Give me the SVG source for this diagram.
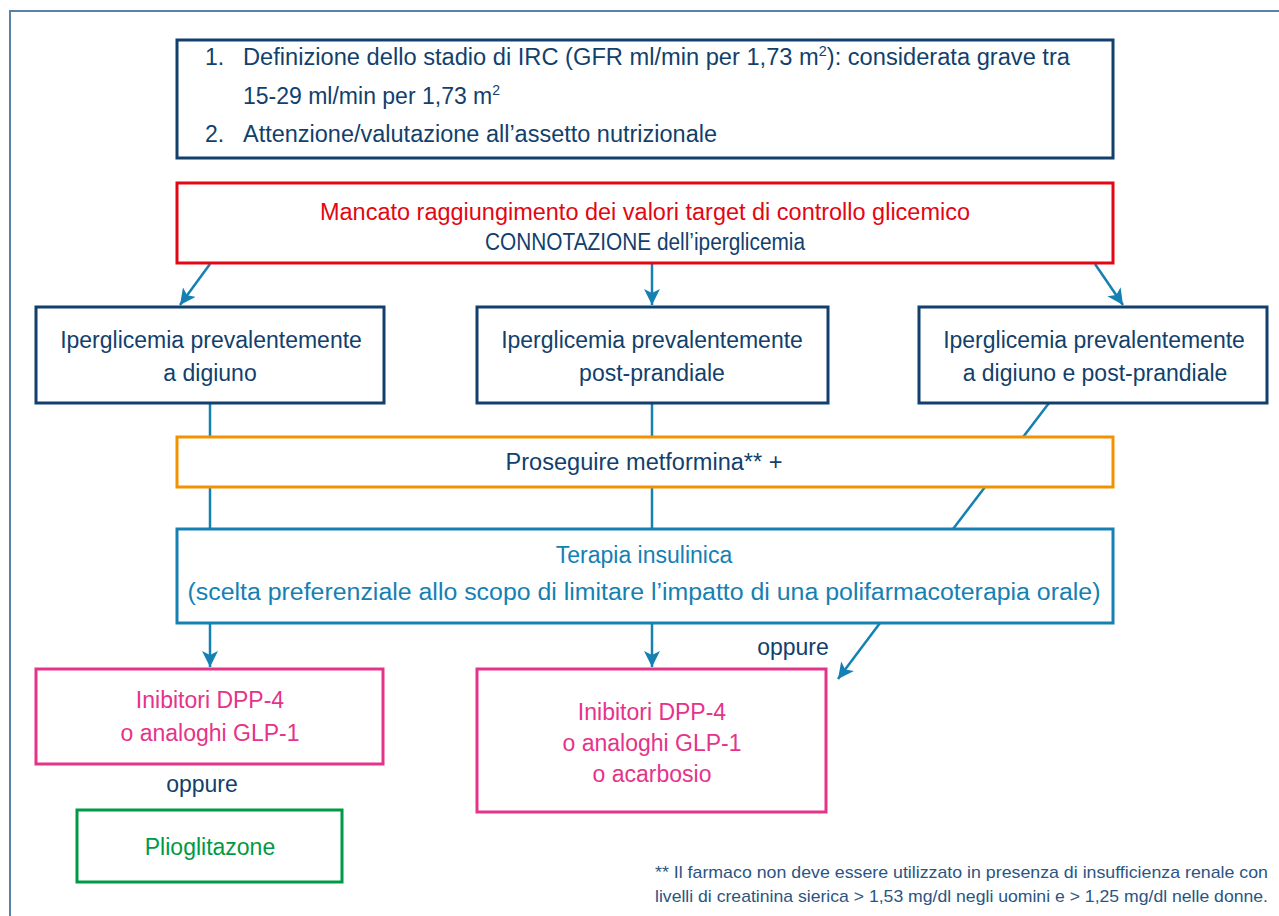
<svg xmlns="http://www.w3.org/2000/svg" width="1279" height="916" viewBox="0 0 1279 916">
<defs>
<marker id="ah" markerUnits="userSpaceOnUse" markerWidth="18" markerHeight="16" refX="16" refY="8" orient="auto">
<path d="M0,0 L16,8 L0,16 L4,8 Z" fill="#1580b2"/>
</marker>
<style>
text{font-family:"Liberation Sans",Arial,sans-serif;font-size:23px;text-anchor:middle}
.navy{fill:#123f6c}
.box{fill:#fff;stroke-width:3}
.conn{stroke:#1580b2;stroke-width:2.5;fill:none}
</style>
</defs>
<rect width="1279" height="916" fill="#fff"/>
<path d="M10,916 V11 H1279" fill="none" stroke="#5b82a6" stroke-width="2"/>

<g id="connectors">
<line class="conn" x1="210" y1="264" x2="180" y2="305" marker-end="url(#ah)"/>
<line class="conn" x1="652" y1="264" x2="652" y2="305" marker-end="url(#ah)"/>
<line class="conn" x1="1095" y1="264" x2="1123" y2="305" marker-end="url(#ah)"/>
<line class="conn" x1="210" y1="403" x2="210" y2="529"/>
<line class="conn" x1="652" y1="403" x2="652" y2="529"/>
<line class="conn" x1="1049" y1="403" x2="953" y2="529"/>
<line class="conn" x1="210" y1="623" x2="210" y2="667" marker-end="url(#ah)"/>
<line class="conn" x1="652" y1="623" x2="652" y2="667" marker-end="url(#ah)"/>
<line class="conn" x1="880" y1="623" x2="838" y2="679" marker-end="url(#ah)"/>
</g>

<g id="n-top">
<rect class="box" x="177" y="40" width="936" height="118" stroke="#123f6c"/>
<text class="navy" x="205" y="65" style="text-anchor:start">1.</text>
<text class="navy" x="243" y="65" style="text-anchor:start" textLength="827" lengthAdjust="spacingAndGlyphs">Definizione dello stadio di IRC (GFR ml/min per 1,73 m<tspan font-size="14" dy="-9">2</tspan><tspan dy="9">): considerata grave tra</tspan></text>
<text class="navy" x="243" y="104" style="text-anchor:start">15-29 ml/min per 1,73 m<tspan font-size="14" dy="-9">2</tspan></text>
<text class="navy" x="205" y="142" style="text-anchor:start">2.</text>
<text class="navy" x="243" y="142" style="text-anchor:start" textLength="474" lengthAdjust="spacingAndGlyphs">Attenzione/valutazione all’assetto nutrizionale</text>
</g>

<g id="n-red">
<rect class="box" x="177" y="183" width="936" height="80" stroke="#e30613"/>
<text x="645" y="220" fill="#e30613" textLength="650" lengthAdjust="spacingAndGlyphs">Mancato raggiungimento dei valori target di controllo glicemico</text>
<text class="navy" x="645" y="250" textLength="320" lengthAdjust="spacingAndGlyphs">CONNOTAZIONE dell’iperglicemia</text>
</g>

<g id="n-left">
<rect class="box" x="36" y="307" width="348" height="96" stroke="#123f6c"/>
<text class="navy" x="211" y="348">Iperglicemia prevalentemente</text>
<text class="navy" x="210" y="381">a digiuno</text>
</g>
<g id="n-mid">
<rect class="box" x="477" y="307" width="351" height="96" stroke="#123f6c"/>
<text class="navy" x="652" y="348">Iperglicemia prevalentemente</text>
<text class="navy" x="652" y="381">post-prandiale</text>
</g>
<g id="n-right">
<rect class="box" x="919" y="307" width="348" height="96" stroke="#123f6c"/>
<text class="navy" x="1094" y="348">Iperglicemia prevalentemente</text>
<text class="navy" x="1095" y="381">a digiuno e post-prandiale</text>
</g>

<g id="n-orange">
<rect class="box" x="177" y="437" width="936" height="50" stroke="#f39200"/>
<text class="navy" x="644" y="470" textLength="277" lengthAdjust="spacingAndGlyphs">Proseguire metformina** +</text>
</g>

<g id="n-teal">
<rect class="box" x="177" y="529" width="936" height="94" stroke="#1580b2"/>
<text x="644" y="563" fill="#1580b2">Terapia insulinica</text>
<text x="644" y="600" fill="#1580b2" textLength="913" lengthAdjust="spacingAndGlyphs">(scelta preferenziale allo scopo di limitare l’impatto di una polifarmacoterapia orale)</text>
</g>

<text id="oppure-right" class="navy" x="793" y="655">oppure</text>

<g id="n-pink-left">
<rect class="box" x="36" y="669" width="347" height="95" stroke="#e6338a"/>
<text x="210" y="708" fill="#e6338a">Inibitori DPP-4</text>
<text x="210" y="741" fill="#e6338a">o analoghi GLP-1</text>
</g>

<g id="n-pink-mid">
<rect class="box" x="477" y="669" width="349" height="143" stroke="#e6338a"/>
<text x="652" y="720" fill="#e6338a">Inibitori DPP-4</text>
<text x="652" y="751" fill="#e6338a">o analoghi GLP-1</text>
<text x="652" y="782" fill="#e6338a">o acarbosio</text>
</g>

<text id="oppure-left" class="navy" x="202" y="792">oppure</text>

<g id="n-green">
<rect class="box" x="77" y="810" width="265" height="72" stroke="#009a44"/>
<text x="210" y="855" fill="#009a44">Plioglitazone</text>
</g>

<g id="footnote" fill="#2a5583" style="font-size:17px">
<text x="655" y="878" style="text-anchor:start;font-size:17px" textLength="613" lengthAdjust="spacingAndGlyphs">** Il farmaco non deve essere utilizzato in presenza di insufficienza renale con</text>
<text x="655" y="902" style="text-anchor:start;font-size:17px" textLength="613" lengthAdjust="spacingAndGlyphs">livelli di creatinina sierica &gt; 1,53 mg/dl negli uomini e &gt; 1,25 mg/dl nelle donne.</text>
</g>
</svg>
